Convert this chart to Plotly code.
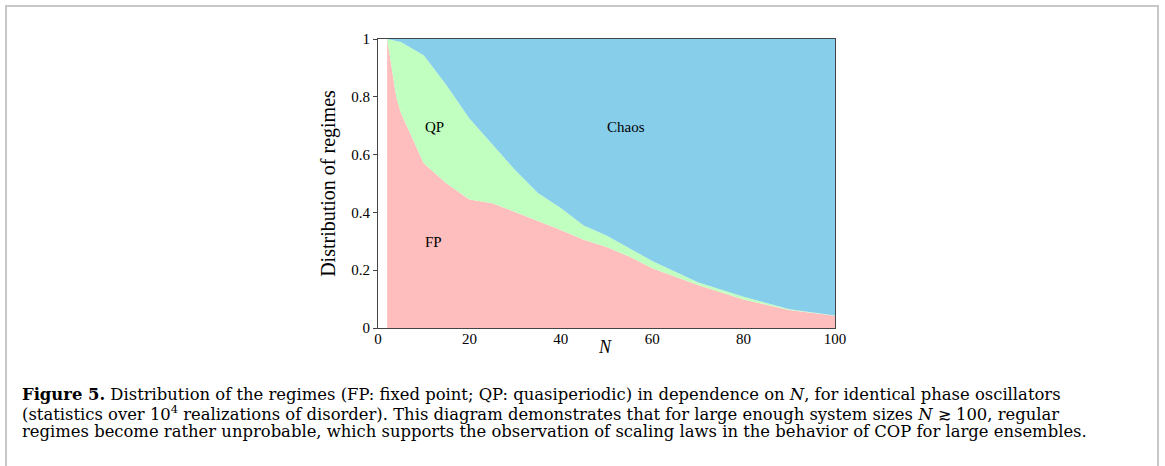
import plotly.graph_objects as go

N = [2, 4, 5, 10, 15, 20, 25, 30, 35, 40, 45, 50, 55, 60, 70, 80, 90, 100]
FP = [1.0, 0.80, 0.745, 0.57, 0.50, 0.445, 0.432, 0.40, 0.37, 0.339, 0.305,
      0.28, 0.247, 0.207, 0.149, 0.099, 0.062, 0.042]
QP = [0.0, 0.195, 0.245, 0.374, 0.34, 0.28, 0.203, 0.147, 0.097, 0.076, 0.05,
      0.04, 0.029, 0.025, 0.009, 0.009, 0.003, 0.001]
CHAOS = [0.0, 0.005, 0.01, 0.056, 0.16, 0.275, 0.365, 0.453, 0.533, 0.585,
         0.645, 0.68, 0.724, 0.768, 0.842, 0.892, 0.935, 0.957]

X_TICKS = [0, 20, 40, 60, 80, 100]
Y_TICKS = [0, 0.2, 0.4, 0.6, 0.8, 1]
Y_TICK_TEXT = ["0", "0.2", "0.4", "0.6", "0.8", "1"]

SERIF = "Liberation Serif, Times New Roman, serif"
CAPTION_FONT = "DejaVu Serif, serif"

fig = go.Figure()
for name, vals, col in [("FP", FP, "#FFBEBE"), ("QP", QP, "#C0FFC0"),
                        ("Chaos", CHAOS, "#87CEEB")]:
    fig.add_trace(go.Scatter(x=N, y=vals, name=name, stackgroup="one",
                             mode="lines", line=dict(width=0, color=col),
                             fillcolor=col, hoverinfo="x+y+name"))

fig.update_layout(
    width=1165, height=466,
    margin=dict(l=378, r=330, t=39, b=138),
    paper_bgcolor="white", plot_bgcolor="white",
    showlegend=False,
    font=dict(family=SERIF, size=15, color="black"),
)
fig.update_xaxes(range=[0, 100], tickvals=X_TICKS, showgrid=False, zeroline=False,
                 showline=True, linecolor="#444", linewidth=1, mirror=True,
                 ticks="", tickfont=dict(size=15), ticklabelstandoff=-3)
fig.update_yaxes(range=[0, 1], tickvals=Y_TICKS, ticktext=Y_TICK_TEXT,
                 showgrid=False, zeroline=False, showline=True, linecolor="#444",
                 linewidth=1, mirror=True, ticks="outside", ticklen=4,
                 tickcolor="#444", tickfont=dict(size=15),
                 title=dict(text="Distribution of regimes", font=dict(size=20),
                            standoff=10))

# x axis title
fig.add_annotation(x=0.497, y=-0.066, xref="paper", yref="paper", text="<i>N</i>",
                   showarrow=False, font=dict(size=18), yanchor="middle")

# region labels
fig.add_annotation(x=12.4, y=0.697, text="QP", showarrow=False, font=dict(size=15))
fig.add_annotation(x=12.1, y=0.299, text="FP", showarrow=False, font=dict(size=15))
fig.add_annotation(x=54.3, y=0.697, text="Chaos", showarrow=False, font=dict(size=15))

# frame around the figure
W, H = 457.0, 289.0
def px(xp):
    return (xp - 378) / W
def py(yp):
    return (328 - yp) / H
fig.add_shape(type="rect", xref="paper", yref="paper", x0=px(6), x1=px(1158),
              y0=py(480), y1=py(6), line=dict(color="#C8C8C8", width=2),
              fillcolor="rgba(0,0,0,0)", layer="above")

caption = [
    "<b>Figure 5.</b> Distribution of the regimes (FP: fixed point; QP: quasiperiodic) in dependence on <i>N</i>, for identical phase oscillators",
    "(statistics over 10<sup>4</sup> realizations of disorder). This diagram demonstrates that for large enough system sizes <i>N</i> ≳ 100, regular",
    "regimes become rather unprobable, which supports the observation of scaling laws in the behavior of COP for large ensembles.",
]
for i, line in enumerate(caption):
    fig.add_annotation(x=px(20), y=py(394 + 18.5 * i), xref="paper", yref="paper",
                       text=line, showarrow=False, xanchor="left", yanchor="middle",
                       align="left", font=dict(size=16.4, family=CAPTION_FONT))

fig.write_html("out.html", config={"displayModeBar": False},
               post_script="document.body.style.margin='0';document.body.style.overflow='hidden';")
